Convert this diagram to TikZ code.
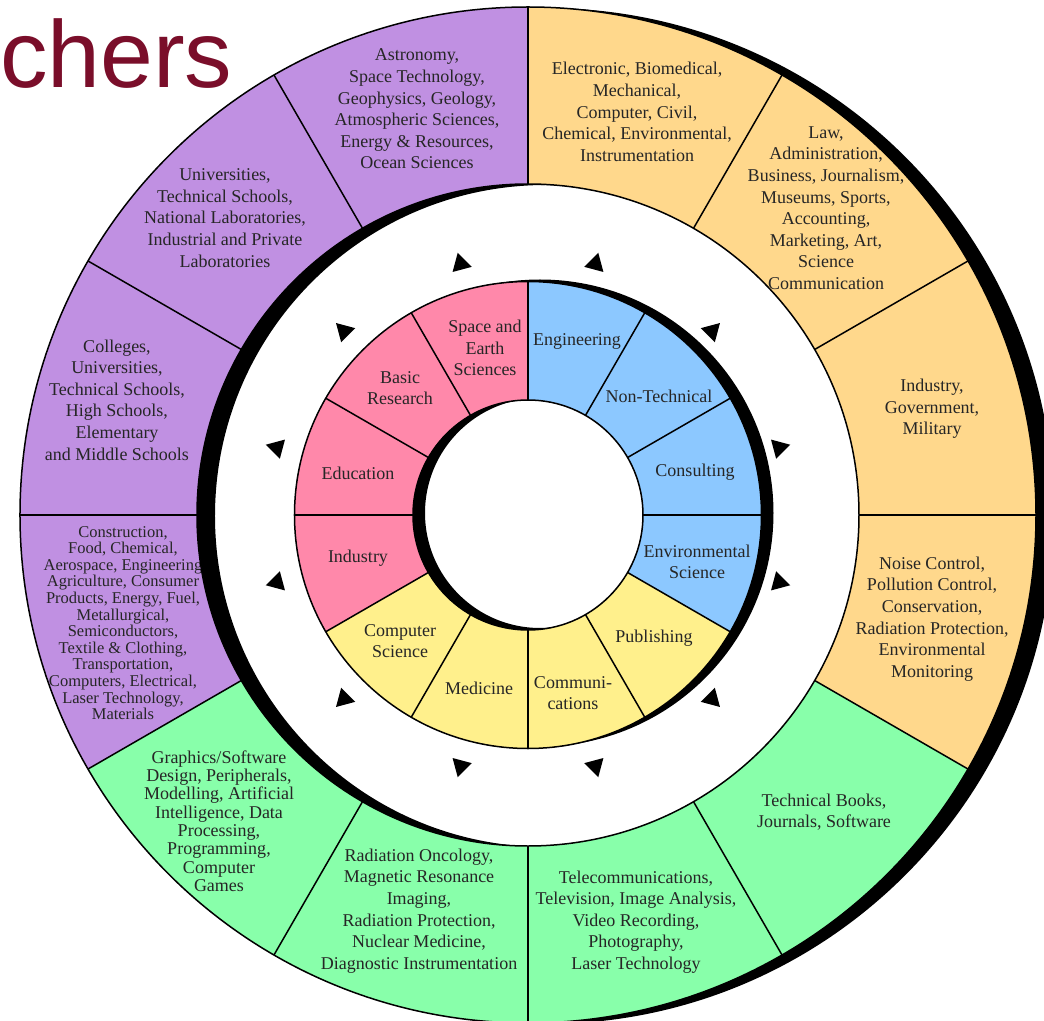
\documentclass[tikz,border=0pt]{standalone}
\usepackage{fontspec}
\setmainfont{Liberation Serif}
\newfontfamily\titlefont{Liberation Sans}
\usepackage{tikz}

\definecolor{ringpurple}{RGB}{192,144,226}
\definecolor{ringorange}{RGB}{255,216,140}
\definecolor{ringgreen}{RGB}{136,255,170}
\definecolor{ringpink}{RGB}{255,136,170}
\definecolor{ringblue}{RGB}{140,200,255}
\definecolor{ringyellow}{RGB}{255,240,140}
\definecolor{titlered}{RGB}{122,14,42}

\tikzset{
	edge/.style={black, line width=1.5pt},
	txt/.style={align=center, inner sep=0pt, text=black!85, font=\fontsize{18}{21.6}\selectfont},
	tighttxt/.style={txt, font=\fontsize{18}{18.3}\selectfont},
	smalltxt/.style={txt, font=\fontsize{16.5}{16.6}\selectfont},
	pointer/.style={fill=black}
}

\begin{document}
\begin{tikzpicture}[x=1pt,y=1pt]
\useasboundingbox (-528,-505) rectangle (516,515);
\clip (-528,-505) rectangle (516,515);
% outer ring
\fill[black, shift={(18,-1)}] (0:508) arc[start angle=0, end angle=360, radius=508] -- (0:331) arc[start angle=360, end angle=0, radius=331] -- cycle;
\foreach \a/\c in {90/ringorange,60/ringorange,30/ringorange,0/ringorange,-30/ringgreen,-60/ringgreen,-90/ringgreen,-120/ringgreen,-150/ringpurple,180/ringpurple,150/ringpurple,120/ringpurple}
	{
	\fill[\c] (\a:331) -- (\a:508) arc[start angle=\a, end angle=\a-30, radius=508] -- (\a-30:331) arc[start angle=\a-30, end angle=\a, radius=331] -- cycle;
	}
\begin{scope}
\clip (0:508) arc[start angle=0, end angle=360, radius=508] -- (0:331) arc[start angle=360, end angle=0, radius=331] -- cycle;
\node[txt] (astro) at (-111,406) {Astronomy,\\Space Technology,\\Geophysics, Geology,\\Atmospheric Sciences,\\Energy \& Resources,\\Ocean Sciences};
\node[txt] (univ) at (-303,297) {Universities,\\Technical Schools,\\National Laboratories,\\Industrial and Private\\Laboratories};
\node[txt] (colleges) at (-411,115) {Colleges,\\Universities,\\Technical Schools,\\High Schools,\\Elementary\\and Middle Schools};
\node[smalltxt] (construct) at (-405,-108) {Construction,\\Food, Chemical,\\Aerospace, Engineering\\Agriculture, Consumer\\Products, Energy, Fuel,\\Metallurgical,\\Semiconductors,\\Textile \& Clothing,\\Transportation,\\Computers, Electrical,\\Laser Technology,\\Materials};
\node[tighttxt] (graphics) at (-309,-306) {Graphics/Software\\Design, Peripherals,\\Modelling, Artificial\\Intelligence, Data\\Processing,\\Programming,\\Computer\\Games};
\node[txt] (radiation) at (-109,-396) {Radiation Oncology,\\Magnetic Resonance\\Imaging,\\Radiation Protection,\\Nuclear Medicine,\\Diagnostic Instrumentation};
\node[txt] (telecom) at (108,-407) {Telecommunications,\\Television, Image Analysis,\\Video Recording,\\Photography,\\Laser Technology};
\node[txt] (books) at (296,-297) {Technical Books,\\Journals, Software};
\node[txt] (noise) at (404,-104) {Noise Control,\\Pollution Control,\\Conservation,\\Radiation Protection,\\Environmental\\Monitoring};
\node[txt] (govt) at (404,106) {Industry,\\Government,\\Military};
\node[txt] (law) at (298,307) {Law,\\Administration,\\Business, Journalism,\\Museums, Sports,\\Accounting,\\Marketing, Art,\\Science\\Communication};
\node[txt] (electronic) at (109,403) {Electronic, Biomedical,\\Mechanical,\\Computer, Civil,\\Chemical, Environmental,\\Instrumentation};
\end{scope}
\draw[edge] (0,0) circle (508);
\draw[edge] (0,0) circle (331);
\foreach \a in {0,30,...,330}
	{
	\draw[edge] (\a:331) -- (\a:508);
	}
% inner ring
\fill[black, shift={(12,2)}] (0:233.5) arc[start angle=0, end angle=360, radius=233.5] -- (0:115) arc[start angle=360, end angle=0, radius=115] -- cycle;
\foreach \a/\c in {90/ringblue,60/ringblue,30/ringblue,0/ringblue,-30/ringyellow,-60/ringyellow,-90/ringyellow,-120/ringyellow,-150/ringpink,180/ringpink,150/ringpink,120/ringpink}
	{
	\fill[\c] (\a:115) -- (\a:233.5) arc[start angle=\a, end angle=\a-30, radius=233.5] -- (\a-30:115) arc[start angle=\a-30, end angle=\a, radius=115] -- cycle;
	}
\draw[edge] (0,0) circle (233.5);
\draw[edge] (0,0) circle (115);
\foreach \a in {0,30,...,330}
	{
	\draw[edge] (\a:115) -- (\a:233.5);
	}
\node[txt] (space) at (-43,167) {Space and\\Earth\\Sciences};
\node[txt] (basic) at (-128,127) {Basic\\Research};
\node[txt] (educ) at (-170,42) {Education};
\node[txt] (indus) at (-170,-43) {Industry};
\node[txt] (compsci) at (-128,-126) {Computer\\Science};
\node[txt] (medic) at (-49,-173) {Medicine};
\node[txt] (commun) at (45,-178) {Communi-\\cations};
\node[txt] (publish) at (126,-123) {Publishing};
\node[txt] (envsci) at (169,-47) {Environmental\\Science};
\node[txt] (consult) at (167,43) {Consulting};
\node[txt] (nontech) at (131,119) {Non-Technical};
\node[txt] (engin) at (49,174) {Engineering};
% pointers in the white ring
\foreach \a in {15,45,...,345}
	{
	\fill[pointer, shift={(\a:260)}, rotate=\a] (0:11.5) -- (120:11.5) -- (240:11.5) -- cycle;
	}
% title
\node[anchor=base west, inner sep=0pt, text=titlered, font=\titlefont\fontsize{95}{95}\selectfont] (title) at (-528,427) {chers};
\end{tikzpicture}
\end{document}
